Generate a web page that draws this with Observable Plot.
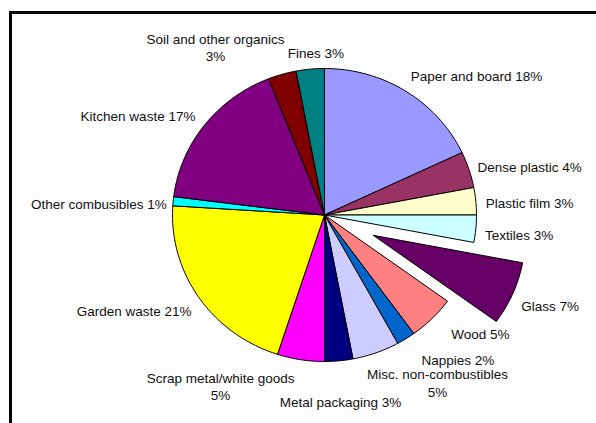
<!DOCTYPE html>
<html><head><meta charset="utf-8">
<script src="https://cdn.jsdelivr.net/npm/d3@7"></script>
<script src="https://cdn.jsdelivr.net/npm/@observablehq/plot@0.6"></script>
<style>
html,body{margin:0;padding:0;background:#fff;}
#wrap{position:relative;width:596px;height:423px;overflow:hidden;}
#frame{position:absolute;left:9px;top:11px;width:700px;height:600px;border-left:3px solid #000;border-top:3px solid #000;box-sizing:border-box;background:#fdfdfd;}
#chart{position:absolute;left:0;top:0;}
</style></head><body>
<div id="wrap"><div id="frame"></div><div id="chart"></div></div>
<script>
// Data (clockwise from 12 o'clock)
const categories = ["Paper and board","Dense plastic","Plastic film","Textiles","Glass","Wood","Nappies","Misc. non-combustibles","Metal packaging","Scrap metal/white goods","Garden waste","Other combusibles","Kitchen waste","Soil and other organics","Fines"];
const values = [18,4,3,3,7,5,2,5,3,5,21,1,17,3,3];
const labels = ["Paper and board 18%","Dense plastic 4%","Plastic film 3%","Textiles 3%","Glass 7%","Wood 5%","Nappies 2%","Misc. non-combustibles\n5%","Metal packaging 3%","Scrap metal/white goods\n5%","Garden waste 21%","Other combusibles 1%","Kitchen waste 17%","Soil and other organics\n3%","Fines 3%"];
const colors = ["#9999FF","#993366","#FFFFCC","#CCFFFF","#660066","#FF8080","#0066CC","#CCCCFF","#000080","#FF00FF","#FFFF00","#00FFFF","#800080","#800000","#008080"];
const explodedCategory = "Glass";

// Layout (pie-unit coordinates for the label centres)
const labelX = [1.0,1.349,1.349,1.28,1.484,1.026,0.878,0.743,0.105,-0.684,-1.253,-1.484,-1.227,-0.717,-0.056];
const labelY = [-0.952,-0.331,-0.085,0.133,0.618,0.809,0.986,1.143,1.273,1.167,0.652,-0.078,-0.679,-1.147,-1.109];
const explodeBy = 0.35;

const arcs = d3.pie().sort(null).value(d => d)(values);
const rows = [];
arcs.forEach((p, i) => {
  const off = categories[i] === explodedCategory ? explodeBy : 0;
  const mid = (p.startAngle + p.endAngle) / 2;
  const cx = off * Math.sin(mid), cy = -off * Math.cos(mid);
  rows.push({k: i, x: cx, y: cy});
  const n = Math.max(2, Math.ceil((p.endAngle - p.startAngle) / (Math.PI / 180)));
  for (let j = 0; j <= n; j++) {
    const a = p.startAngle + (p.endAngle - p.startAngle) * j / n;
    rows.push({k: i, x: cx + Math.sin(a), y: cy - Math.cos(a)});
  }
  rows.push({k: i, x: cx, y: cy});
});
const labelData = labels.map((t, i) => ({t, x: labelX[i], y: labelY[i]}));

const chart = Plot.plot({
  width: 596, height: 423,
  style: {background: "none", fontFamily: "Arial, 'Liberation Sans', sans-serif"},
  x: {domain: [-1, 1], range: [172, 476], axis: null},
  y: {domain: [-1, 1], range: [68, 361], axis: null},
  color: {type: "identity"},
  marks: [
    Plot.line(rows, {x: "x", y: "y", z: "k", fill: d => colors[d.k], stroke: "#000", strokeWidth: 1, curve: "linear"}),
    Plot.text(labelData, {x: "x", y: "y", text: "t", fontSize: 13.5, fill: "#111", lineHeight: 1.3})
  ]
});
document.getElementById("chart").appendChild(chart);
</script>
</body></html>
